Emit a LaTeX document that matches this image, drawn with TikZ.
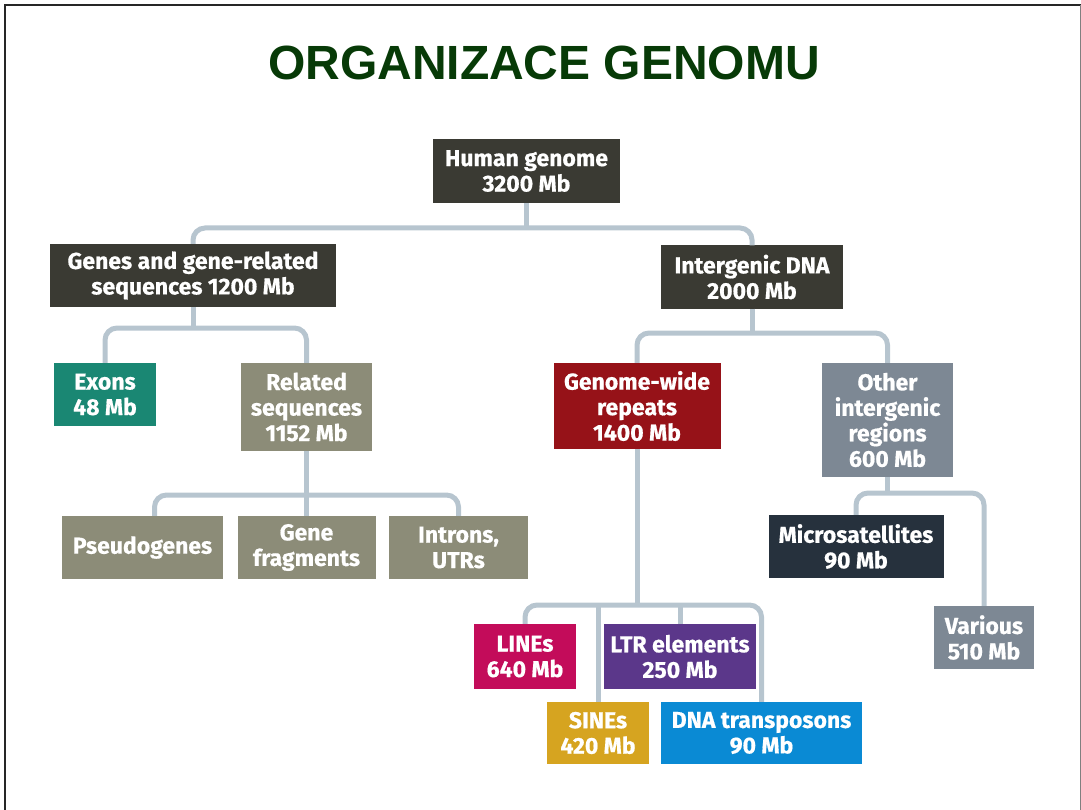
\documentclass[tikz,border=0pt]{standalone}
\usepackage{fontspec}
\usepackage{xcolor}
\usetikzlibrary{positioning}
\newfontfamily\titlefont{Liberation Sans}
\newfontfamily\boxfont{Fira Sans}[BoldFeatures={FakeBold=0.6}]
\definecolor{titlegreen}{HTML}{073A07}
\definecolor{linkgray}{HTML}{B7C5CF}
\definecolor{darkbox}{HTML}{3A3A33}
\definecolor{exonteal}{HTML}{1A8773}
\definecolor{olivebox}{HTML}{8C8C78}
\definecolor{repeatred}{HTML}{961218}
\definecolor{slatebox}{HTML}{7D8894}
\definecolor{navybox}{HTML}{26313D}
\definecolor{linemag}{HTML}{C30C5A}
\definecolor{ltrpurple}{HTML}{5B378A}
\definecolor{sinegold}{HTML}{D6A420}
\definecolor{dnablue}{HTML}{0A8AD4}
\tikzset{
  box/.style={fill=#1, text=white, align=center, inner sep=0pt,
    font=\boxfont\bfseries\fontsize{23}{25.5}\selectfont},
  link/.style={draw=linkgray, line width=5pt, rounded corners=12pt}
}

\begin{document}
\begin{tikzpicture}[x=1pt, y=-1pt]
  \useasboundingbox (0,0) rectangle (1081,810);
  \draw[black!85, line width=2.5pt] (5,810) -- (5,5) -- (1081,5);
  \draw[gray, line width=1pt] (1080,5) -- (1080,810);
  \node[font=\titlefont\bfseries\fontsize{48}{50}\selectfont, text=titlegreen] (title) at (544,63) {ORGANIZACE GENOMU};

  \node[box=darkbox, minimum width=187, minimum height=64] (human) at (526.5,171) {Human genome\\3200 Mb};
  \node[box=darkbox, minimum width=286, minimum height=63] (genes) at (193,275.5) {Genes and gene-related\\sequences 1200 Mb};
  \node[box=darkbox, minimum width=182, minimum height=63] (inter) at (752,277) {Intergenic DNA\\2000 Mb};
  \node[box=exonteal, minimum width=102, minimum height=63] (exons) at (105,394.5) {Exons\\48 Mb};
  \node[box=olivebox, minimum width=131, minimum height=88] (related) at (306.5,407) {Related\\sequences\\1152 Mb};
  \node[box=olivebox, minimum width=161, minimum height=63] (pseudo) at (142.5,547.5) {Pseudogenes};
  \node[box=olivebox, minimum width=138, minimum height=63] (frag) at (306.5,547.5) {Gene\\fragments};
  \node[box=olivebox, minimum width=139, minimum height=63] (introns) at (458.5,547.5) {Introns,\\UTRs};
  \node[box=repeatred, minimum width=167, minimum height=86] (gwide) at (637,406) {Genome-wide\\repeats\\1400 Mb};
  \node[box=slatebox, minimum width=131, minimum height=114] (other) at (887.5,420) {Other\\intergenic\\regions\\600 Mb};
  \node[box=navybox, minimum width=175, minimum height=63] (micro) at (856,546.5) {Microsatellites\\90 Mb};
  \node[box=slatebox, minimum width=100, minimum height=63] (various) at (984,637.5) {Various\\510 Mb};
  \node[box=linemag, minimum width=102, minimum height=65] (lines) at (525,656.5) {LINEs\\640 Mb};
  \node[box=ltrpurple, minimum width=152, minimum height=65] (ltr) at (680,656.5) {LTR elements\\250 Mb};
  \node[box=sinegold, minimum width=102, minimum height=62] (sines) at (598,733) {SINEs\\420 Mb};
  \node[box=dnablue, minimum width=201, minimum height=62] (dna) at (761.5,733) {DNA transposons\\90 Mb};

  \coordinate (j0) at (526.5,228);
  \coordinate (j1) at (193,328);
  \coordinate (j2) at (306.5,495);
  \coordinate (j3) at (752,333);
  \coordinate (j4) at (887.5,493);
  \coordinate (j5) at (637,605);

  \draw[link] (human.south) -- (j0);
  \draw[link] (genes.north) |- (j0) -| (inter.north);
  \draw[link] (genes.south) -- (j1);
  \draw[link] (exons.north) |- (j1) -| (related.north);
  \draw[link] (related.south) -- (frag.north);
  \draw[link] ([xshift=12pt]pseudo.north) |- (j2) -| (introns.north);
  \draw[link] (inter.south) -- (j3);
  \draw[link] (gwide.north) |- (j3) -| (other.north);
  \draw[link] (other.south) -- (j4);
  \draw[link] (micro.north) |- (j4) -| (various.north);
  \draw[link] (gwide.south) -- (j5);
  \draw[link] (lines.north) |- (j5) -| (dna.north);
  \draw[link] (sines.north) -- (sines.north |- j5);
  \draw[link] (ltr.north) -- (ltr.north |- j5);
\end{tikzpicture}
\end{document}
